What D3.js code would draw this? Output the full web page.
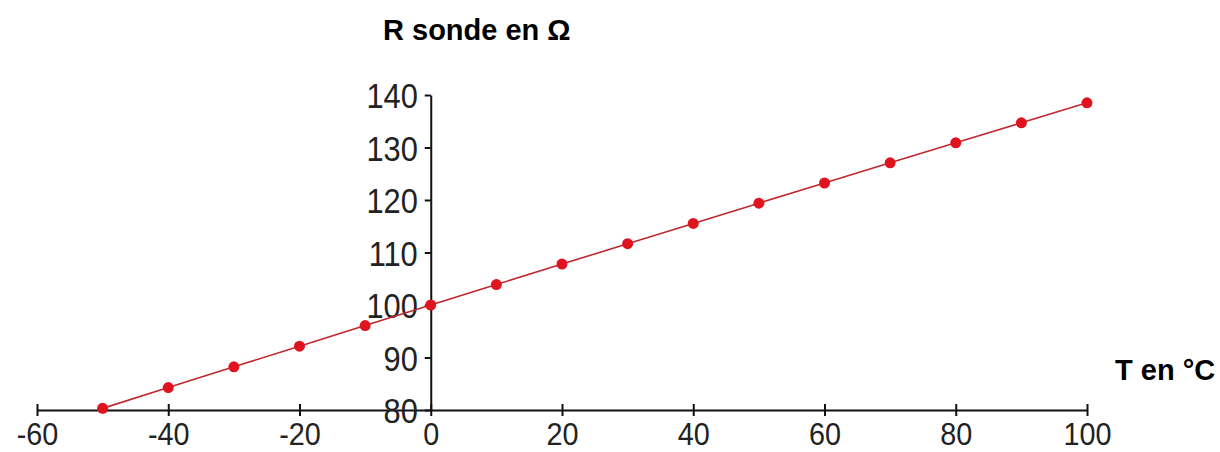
<!DOCTYPE html>
<html>
<head>
<meta charset="utf-8">
<script src="https://cdn.jsdelivr.net/npm/d3@7"></script>
<style>
  body { margin: 0; background: #fff; }
  .tick text { font-family: "Liberation Sans", Arial, sans-serif; fill: #222; }
  .axis--label { font-family: "Liberation Sans", Arial, sans-serif; font-weight: bold; font-size: 29px; fill: #000; }
</style>
</head>
<body>
<div class="graph"></div>
<script>
// Pt100 probe resistance vs temperature
var temps = [-50, -40, -30, -20, -10, 0, 10, 20, 30, 40, 50, 60, 70, 80, 90, 100];
var resist = [80.31, 84.27, 88.22, 92.16, 96.09, 100, 103.9, 107.79, 111.67, 115.54, 119.4, 123.24, 127.08, 130.9, 134.71, 138.51];
var xTicks = [-60, -40, -20, 0, 20, 40, 60, 80, 100];
var yTicks = [80, 90, 100, 110, 120, 130, 140];

var width = 1220, height = 452;
var squeeze = 0.9; // tick labels look condensed in the original

var svg = d3.select(".graph").append("svg")
    .attr("width", width)
    .attr("height", height);

var xScale = d3.scaleLinear().domain([-60, 100]).range([37, 1087]);
var yScale = d3.scaleLinear().domain([80, 140]).range([410, 95]);

// X axis (temperature)
var xAxis = d3.axisBottom(xScale)
    .tickValues(xTicks)
    .tickSizeInner(6)
    .tickSizeOuter(0)
    .tickFormat(function(d) { return String(d); });
var xg = svg.append("g")
    .attr("transform", "translate(0," + yScale(80) + ")")
    .call(xAxis);
xg.select(".domain").attr("stroke", "#111").attr("stroke-width", 2);
xg.selectAll(".tick line").attr("y1", -6).attr("stroke", "#111").attr("stroke-width", 2);
xg.selectAll(".tick text")
    .attr("font-size", 32)
    .attr("y", 35)
    .attr("dy", null)
    .attr("transform", "scale(" + squeeze + ",1)");

// Y axis (resistance)
var yAxis = d3.axisLeft(yScale)
    .tickValues(yTicks)
    .tickSizeInner(6)
    .tickSizeOuter(0);
var yg = svg.append("g")
    .attr("transform", "translate(" + xScale(0) + ",0)")
    .call(yAxis);
yg.select(".domain").attr("stroke", "#111").attr("stroke-width", 2);
yg.selectAll(".tick line").attr("stroke", "#111").attr("stroke-width", 2);
yg.selectAll(".tick text")
    .attr("font-size", 35)
    .attr("x", -13 / 0.88)
    .attr("dy", "0.36em")
    .attr("transform", "scale(0.88,1)");

// Axis titles
svg.append("text")
    .attr("class", "axis--label")
    .attr("x", 383)
    .attr("y", 40)
    .text("R sonde en Ω");
svg.append("text")
    .attr("class", "axis--label")
    .attr("x", 1115)
    .attr("y", 380)
    .text("T en °C");

// Line and points
var points = temps.map(function(t, i) { return { t: t, r: resist[i] }; });

var line = d3.line()
    .x(function(d) { return xScale(d.t); })
    .y(function(d) { return yScale(d.r); });

svg.append("path")
    .datum(points)
    .attr("d", line)
    .attr("fill", "none")
    .attr("stroke", "#c0282e")
    .attr("stroke-width", 1.6);

svg.selectAll("circle.pt")
    .data(points)
    .enter().append("circle")
    .attr("class", "pt")
    .attr("cx", function(d) { return xScale(d.t); })
    .attr("cy", function(d) { return yScale(d.r); })
    .attr("r", 5.5)
    .attr("fill", "#e0141e");
</script>
</body>
</html>
